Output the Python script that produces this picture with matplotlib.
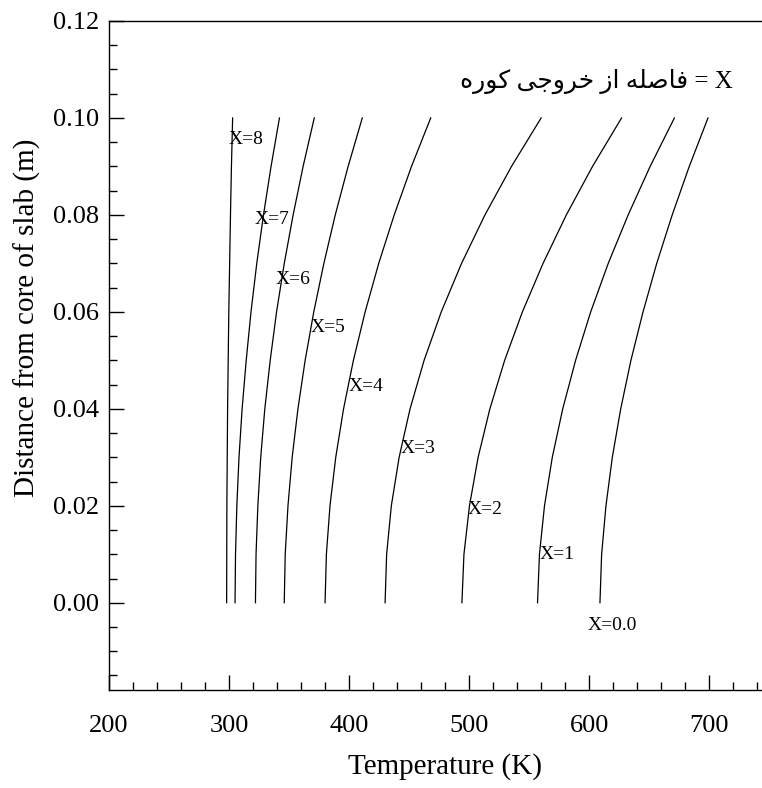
import matplotlib
matplotlib.use("Agg")
import matplotlib.pyplot as plt
from matplotlib.ticker import MultipleLocator, FormatStrFormatter

# ---- data ----
distance = [0.00, 0.01, 0.02, 0.03, 0.04, 0.05, 0.06, 0.07, 0.08, 0.09, 0.10]  # m
temp_x0 = [609, 610.4, 614.0, 619.3, 626.3, 634.8, 644.9, 656.3, 669.2, 683.4, 699]
temp_x1 = [557, 558.6, 562.8, 569.3, 578.0, 588.7, 601.3, 615.9, 632.5, 650.8, 671]
temp_x2 = [494, 495.7, 500.3, 507.5, 517.3, 529.6, 544.4, 561.6, 581.0, 602.8, 627]
temp_x3 = [430, 431.3, 435.2, 441.7, 450.8, 462.5, 476.8, 493.7, 513.2, 535.3, 560]
temp_x4 = [380, 381.1, 384.1, 388.9, 395.4, 403.6, 413.4, 424.7, 437.6, 452.0, 468]
temp_x5 = [346, 346.8, 349.1, 352.6, 357.4, 363.4, 370.6, 379.0, 388.5, 399.2, 411]
temp_x6 = [322, 322.5, 324.0, 326.4, 329.8, 334.3, 339.6, 346.0, 353.4, 361.7, 371]
temp_x7 = [305, 305.4, 306.5, 308.3, 310.9, 314.3, 318.3, 323.1, 328.7, 335.0, 342]
temp_x8 = [298, 298.1, 298.2, 298.5, 298.8, 299.3, 299.8, 300.5, 301.2, 302.0, 303]
curves = [temp_x0, temp_x1, temp_x2, temp_x3, temp_x4,
          temp_x5, temp_x6, temp_x7, temp_x8]

curve_labels = ["X=0.0", "X=1", "X=2", "X=3", "X=4", "X=5", "X=6", "X=7", "X=8"]
label_temp = [599, 559, 499, 443, 400, 368, 339, 321, 300]
label_dist = [-0.0047, 0.0099, 0.0192, 0.0319, 0.0447, 0.0567, 0.0666, 0.079, 0.0955]

x_ticks = [200, 300, 400, 500, 600, 700]
y_ticks = [0.00, 0.02, 0.04, 0.06, 0.08, 0.10, 0.12]

title_text = "فاصله از خروجی کوره"

# ---- minimal Arabic/Persian shaping (matplotlib has no complex text layout) ----
FORMS = {  # isolated, final, initial, medial
    "ف": ("\uFED1", "\uFED2", "\uFED3", "\uFED4"),
    "ا": ("\uFE8D", "\uFE8E", None, None),
    "ص": ("\uFEB9", "\uFEBA", "\uFEBB", "\uFEBC"),
    "ل": ("\uFEDD", "\uFEDE", "\uFEDF", "\uFEE0"),
    "ه": ("\uFEE9", "\uFEEA", "\uFEEB", "\uFEEC"),
    "ز": ("\uFEAF", "\uFEB0", None, None),
    "خ": ("\uFEA5", "\uFEA6", "\uFEA7", "\uFEA8"),
    "ر": ("\uFEAD", "\uFEAE", None, None),
    "و": ("\uFEED", "\uFEEE", None, None),
    "ج": ("\uFE9D", "\uFE9E", "\uFE9F", "\uFEA0"),
    "ی": ("\uFBFC", "\uFBFD", "\uFBFE", "\uFBFF"),
    "ک": ("\uFB8E", "\uFB8F", "\uFB90", "\uFB91"),
}


def joins_next(ch):
    return ch in FORMS and FORMS[ch][2] is not None


def shape(text):
    out = []
    for i, ch in enumerate(text):
        if ch not in FORMS:
            out.append(ch)
            continue
        prev = text[i - 1] if i > 0 else ""
        nxt = text[i + 1] if i + 1 < len(text) else ""
        left = joins_next(prev)
        right = joins_next(ch) and nxt in FORMS
        iso, fin, ini, med = FORMS[ch]
        if left and right:
            out.append(med)
        elif left:
            out.append(fin)
        elif right:
            out.append(ini)
        else:
            out.append(iso)
    return "".join(reversed(out))


plt.rcParams["font.family"] = ["Liberation Serif", "DejaVu Sans"]

W, H = 762, 788
fig = plt.figure(figsize=(W / 100, H / 100), dpi=100)
ax_left, ax_right, ax_top, ax_bottom = 109, 762, 21, 690
ax = fig.add_axes([ax_left / W, 1 - ax_bottom / H,
                   (ax_right - ax_left) / W, (ax_bottom - ax_top) / H])

for temps in curves:
    ax.plot(temps, distance, color="black", lw=0.9)

for lab, tx, ty in zip(curve_labels, label_temp, label_dist):
    ax.text(tx, ty, lab, fontsize=14, ha="left", va="center", color="black")

fig.text(733 / W, 1 - 81 / H, shape(title_text) + " = X",
         fontsize=18, ha="right", va="center", color="black",
         family=["Liberation Serif", "DejaVu Sans"])

ax.set_xlim(200, 744)
ax.set_ylim(-0.018, 0.12)
ax.set_xticks(x_ticks)
ax.set_yticks(y_ticks)
ax.xaxis.set_minor_locator(MultipleLocator(20))
ax.yaxis.set_minor_locator(MultipleLocator(0.005))
ax.yaxis.set_major_formatter(FormatStrFormatter("%.2f"))

ax.tick_params(which="both", direction="in", top=False, right=False, width=1)
ax.tick_params(which="major", length=11)
ax.tick_params(which="minor", length=6)
ax.tick_params(axis="y", labelsize=19, pad=7)
ax.tick_params(axis="x", labelsize=19, pad=18)

ax.spines["right"].set_visible(False)
for s in ["left", "bottom", "top"]:
    ax.spines[s].set_linewidth(1.0)

fig.text(445 / W, 1 - 767 / H, "Temperature (K)", fontsize=21,
         ha="center", va="center")
fig.text(27 / W, 1 - 318 / H, "Distance from core of slab (m)", fontsize=21,
         ha="center", va="center", rotation=90)

fig.savefig("out.png", dpi=100)
